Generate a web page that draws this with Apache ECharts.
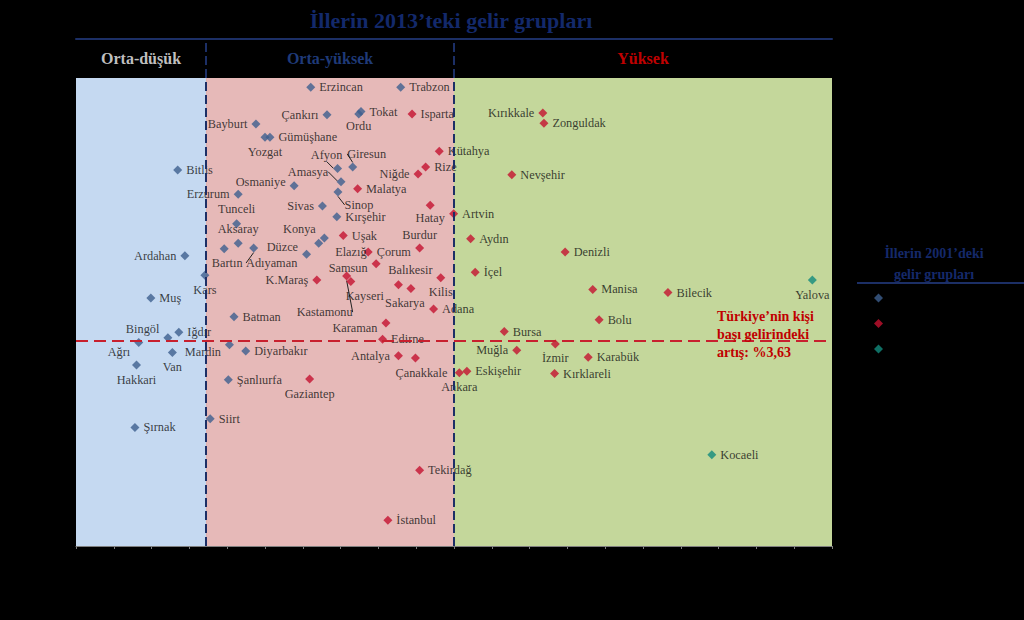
<!DOCTYPE html>
<html><head><meta charset="utf-8">
<script src="https://cdn.jsdelivr.net/npm/echarts@6/dist/echarts.min.js"></script>
<style>html,body{margin:0;padding:0;background:#000}#c{width:1024px;height:620px}</style>
</head><body><div id="c"></div>
<script>
// 2013 income groups (x-axis bands) and 2001 income groups (series)
const groupNames = ['Orta-düşük', 'Orta-yüksek', 'Yüksek'];
const groupBounds = [0, 3.44, 10, 20];
const growthLine = 3.63;

// 2001: Orta-düşük (blue)
const lowNames = ['Erzincan','Trabzon','Çankırı','Tokat','Ordu','Bayburt','Gümüşhane','Yozgat','Bitlis','Afyon','Giresun','Amasya','Osmaniye','Erzurum','Sinop','Sivas','Tunceli','Kırşehir','Konya','Elazığ','Aksaray','Bartın','Adıyaman','Düzce','Ardahan','Kars','Muş','Batman','Bingöl','Iğdır','Ağrı','Mardin','Van','Hakkari','Diyarbakır','Şanlıurfa','Siirt','Şırnak'];
const lowX = [6.21,8.59,6.64,7.54,7.48,4.76,5.13,5.00,2.69,6.92,7.32,7.01,5.77,4.29,6.93,6.52,4.25,6.90,6.57,6.42,4.29,3.92,4.70,6.10,2.88,3.41,1.98,4.18,2.43,2.72,1.66,4.06,2.55,1.60,4.49,4.03,3.55,1.56];
const lowY = [6.88,6.88,6.53,6.57,6.54,6.41,6.24,6.24,5.82,5.84,5.86,5.67,5.62,5.51,5.54,5.36,5.13,5.22,4.95,4.88,4.88,4.81,4.82,4.74,4.72,4.47,4.18,3.94,3.67,3.74,3.61,3.58,3.48,3.32,3.50,3.13,2.63,2.52];

// 2001: Orta-yüksek (red)
const midNames = ['Isparta','Kütahya','Rize','Niğde','Malatya','Hatay','Artvin','Uşak','Çorum','Burdur','Samsun','Kastamonu','Kayseri','K.Maraş','Balıkesir','Sakarya','Kilis','Adana','Karaman','Edirne','Antalya','Çanakkale','Ankara','Eskişehir','Gaziantep','Tekirdağ','İstanbul','Kırıkkale','Zonguldak','Nevşehir','Aydın','Denizli','İçel','Manisa','Bilecik','Bolu','Bursa','İzmir','Muğla','Karabük','Kırklareli'];
const midX = [8.89,9.61,9.25,9.05,7.45,9.37,9.99,7.07,7.73,9.09,7.94,7.16,7.27,6.37,8.53,8.86,9.65,9.46,8.20,8.11,8.53,8.98,10.14,10.34,6.18,9.09,8.25,12.35,12.38,11.53,10.44,12.94,10.56,13.67,15.66,13.84,11.33,12.68,11.66,13.55,12.66];
const midY = [6.54,6.06,5.86,5.77,5.58,5.37,5.26,4.98,4.77,4.82,4.62,4.46,4.39,4.41,4.35,4.30,4.44,4.04,3.86,3.65,3.44,3.41,3.22,3.24,3.14,1.97,1.33,6.55,6.42,5.76,4.94,4.77,4.51,4.29,4.25,3.90,3.75,3.59,3.51,3.42,3.21];

// 2001: Yüksek (teal)
const highNames = ['Yalova','Kocaeli'];
const highX = [19.48,16.82];
const highY = [4.41,2.17];

// label placement (style only): [position, dx, dy]
const labelPlace = {
  'Çankırı':['left',0,0],'Ordu':['bottom',0,-2],'Bayburt':['left',0,0],'Yozgat':['bottom',0,0],
  'Osmaniye':['left',0,-4],
  'Niğde':['left',0,0],'Erzurum':['left',0,0],'Sivas':['left',0,0],
  'Hatay':['bottom',0,-2],'Tunceli':['top',0,0],'Konya':['left',0,-9],'Elazığ':['right',8,9],
  'Aksaray':['top',0,0],'Bartın':['bottom',3,0],'Düzce':['left',0,-7],
  'Burdur':['top',0,1],'Ardahan':['left',0,0],'Samsun':['left',0,4],
  'Kayseri':['bottom',14,0],'K.Maraş':['left',0,0],'Kars':['bottom',0,0],'Balıkesir':['top',12,0],
  'Sakarya':['bottom',-6,0],'Kilis':['bottom',0,0],'Karaman':['left',0,5],'Bingöl':['left',0,-9],
  'Ağrı':['left',0,10],'Mardin':['left',0,7],'Van':['bottom',0,0],'Hakkari':['bottom',0,0],
  'Antalya':['left',0,0],'Çanakkale':['bottom',6,0],'Ankara':['bottom',0,0],'Gaziantep':['bottom',0,0],
  'Kırıkkale':['left',0,0],'Yalova':['bottom',0,0],'İzmir':['bottom',0,0],'Muğla':['left',0,0]
};
// labels that sit away from their marker with a leader line: centre shift from the marker
const leaderShift = {
  'Kastamonu':[-22,36],'Amasya':[-33,-10],'Sinop':[21,13],'Adıyaman':[18,15],'Afyon':[-11,-13],'Giresun':[14,-13]
};

const SERIF = '"Liberation Serif", "DejaVu Serif", serif';
function build(names, xs, ys) {
  return names.map((n, i) => {
    const p = labelPlace[n] || ['right', 0, 0];
    const item = { name: n, value: [xs[i], ys[i]], label: { position: p[0] } };
    if (leaderShift[n]) item.labelLine = { show: true, lineStyle: { color: '#222', width: 1 } };
    return item;
  });
}
function placeLayout(names) {
  return function (params) {
    const n = names[params.dataIndex];
    const s = leaderShift[n];
    if (s) {
      return {
        x: params.rect.x + params.rect.width / 2 + s[0],
        y: params.rect.y + params.rect.height / 2 + s[1],
        align: 'center', verticalAlign: 'middle'
      };
    }
    const p = labelPlace[n];
    if (p && (p[1] || p[2])) return { dx: p[1], dy: p[2] };
    return {};
  };
}
const pointLabel = { show: true, formatter: '{b}', fontFamily: SERIF, fontSize: 12.3, color: '#111', distance: 4 };
const bandColors = ['#c5d9f1', '#e6b9b8', '#c4d79b'];
const headColors = ['#bfbfbf', '#1f3a78', '#c00000'];

const areaData = [];
for (let i = 0; i < 3; i++) {
  areaData.push([{ xAxis: groupBounds[i], yAxis: 1, itemStyle: { color: bandColors[i] } }, { xAxis: groupBounds[i + 1], yAxis: 7 }]);
  areaData.push([{ xAxis: groupBounds[i], yAxis: 7, itemStyle: { color: 'rgba(0,0,0,0)' },
    label: { show: true, position: 'inside', formatter: groupNames[i], color: headColors[i], fontWeight: 'bold', fontSize: 16, fontFamily: SERIF } },
    { xAxis: groupBounds[i + 1], yAxis: 7.5 }]);
}

const chart = echarts.init(document.getElementById('c'), null, { renderer: 'svg' });
chart.setOption({
  backgroundColor: '#000',
  animation: false,
  grid: { left: 76, right: 192, top: 39, bottom: 74 },
  xAxis: [
    { type: 'value', min: 0, max: 20, interval: 1, position: 'bottom',
      axisLine: { show: true, lineStyle: { color: '#7f7f7f', width: 1 } },
      axisTick: { show: true, length: 3, lineStyle: { color: '#7f7f7f' } },
      axisLabel: { show: false }, splitLine: { show: false } },
    { type: 'value', min: 0, max: 20, position: 'top',
      axisLine: { show: true, onZero: false, lineStyle: { color: '#1c2f66', width: 2 } },
      axisTick: { show: false }, axisLabel: { show: false }, splitLine: { show: false } }
  ],
  yAxis: { type: 'value', min: 1, max: 7.5, show: false, splitLine: { show: false } },
  legend: {
    orient: 'vertical', left: 869, top: 287, icon: 'diamond', itemWidth: 9, itemHeight: 9, itemGap: 13.5,
    data: groupNames, textStyle: { color: '#000', fontFamily: SERIF, fontSize: 12 }
  },
  graphic: [
    { type: 'text', x: 451, y: 20, style: { text: 'İllerin 2013’teki gelir grupları', align: 'center', verticalAlign: 'middle',
      font: 'bold 22px "Liberation Serif"', fill: '#13296b' } },
    { type: 'text', x: 934, y: 253, style: { text: 'İllerin 2001’deki', align: 'center', verticalAlign: 'middle',
      font: 'bold 14px "Liberation Serif"', fill: '#15296a' } },
    { type: 'text', x: 934, y: 274, style: { text: 'gelir grupları', align: 'center', verticalAlign: 'middle',
      font: 'bold 14px "Liberation Serif"', fill: '#15296a' } },
    { type: 'line', shape: { x1: 857, y1: 283, x2: 1024, y2: 283 }, style: { stroke: '#1c2f66', lineWidth: 2 } },
    { type: 'text', x: 717, y: 334, style: { text: 'Türkiye’nin kişi\nbaşı gelirindeki\nartış: %3,63', align: 'left', verticalAlign: 'middle',
      font: 'bold 14px "Liberation Serif"', fill: '#c00000', lineHeight: 18 }, z: 10 }
  ],
  series: [
    { type: 'line', data: [], z: 1, silent: true,
      markArea: { silent: true, data: areaData } },
    { type: 'line', data: [], z: 2, silent: true,
      markLine: { silent: true, symbol: 'none', label: { show: false },
        data: [
          { xAxis: groupBounds[1], lineStyle: { color: '#1c2f66', width: 2, type: [9, 4] } },
          { xAxis: groupBounds[2], lineStyle: { color: '#1c2f66', width: 2, type: [9, 4] } },
          { yAxis: growthLine, lineStyle: { color: '#c8202e', width: 2, type: [12, 6] } }
        ] } },
    { name: groupNames[0], type: 'scatter', z: 3, symbol: 'diamond', symbolSize: 9,
      itemStyle: { color: '#3d5f8f' }, label: pointLabel, labelLayout: placeLayout(lowNames),
      data: build(lowNames, lowX, lowY) },
    { name: groupNames[1], type: 'scatter', z: 3, symbol: 'diamond', symbolSize: 9,
      itemStyle: { color: '#c4122f' }, label: pointLabel, labelLayout: placeLayout(midNames),
      data: build(midNames, midX, midY) },
    { name: groupNames[2], type: 'scatter', z: 3, symbol: 'diamond', symbolSize: 9,
      itemStyle: { color: '#138b7d' }, label: pointLabel, data: build(highNames, highX, highY) }
  ]
});
</script></body></html>
